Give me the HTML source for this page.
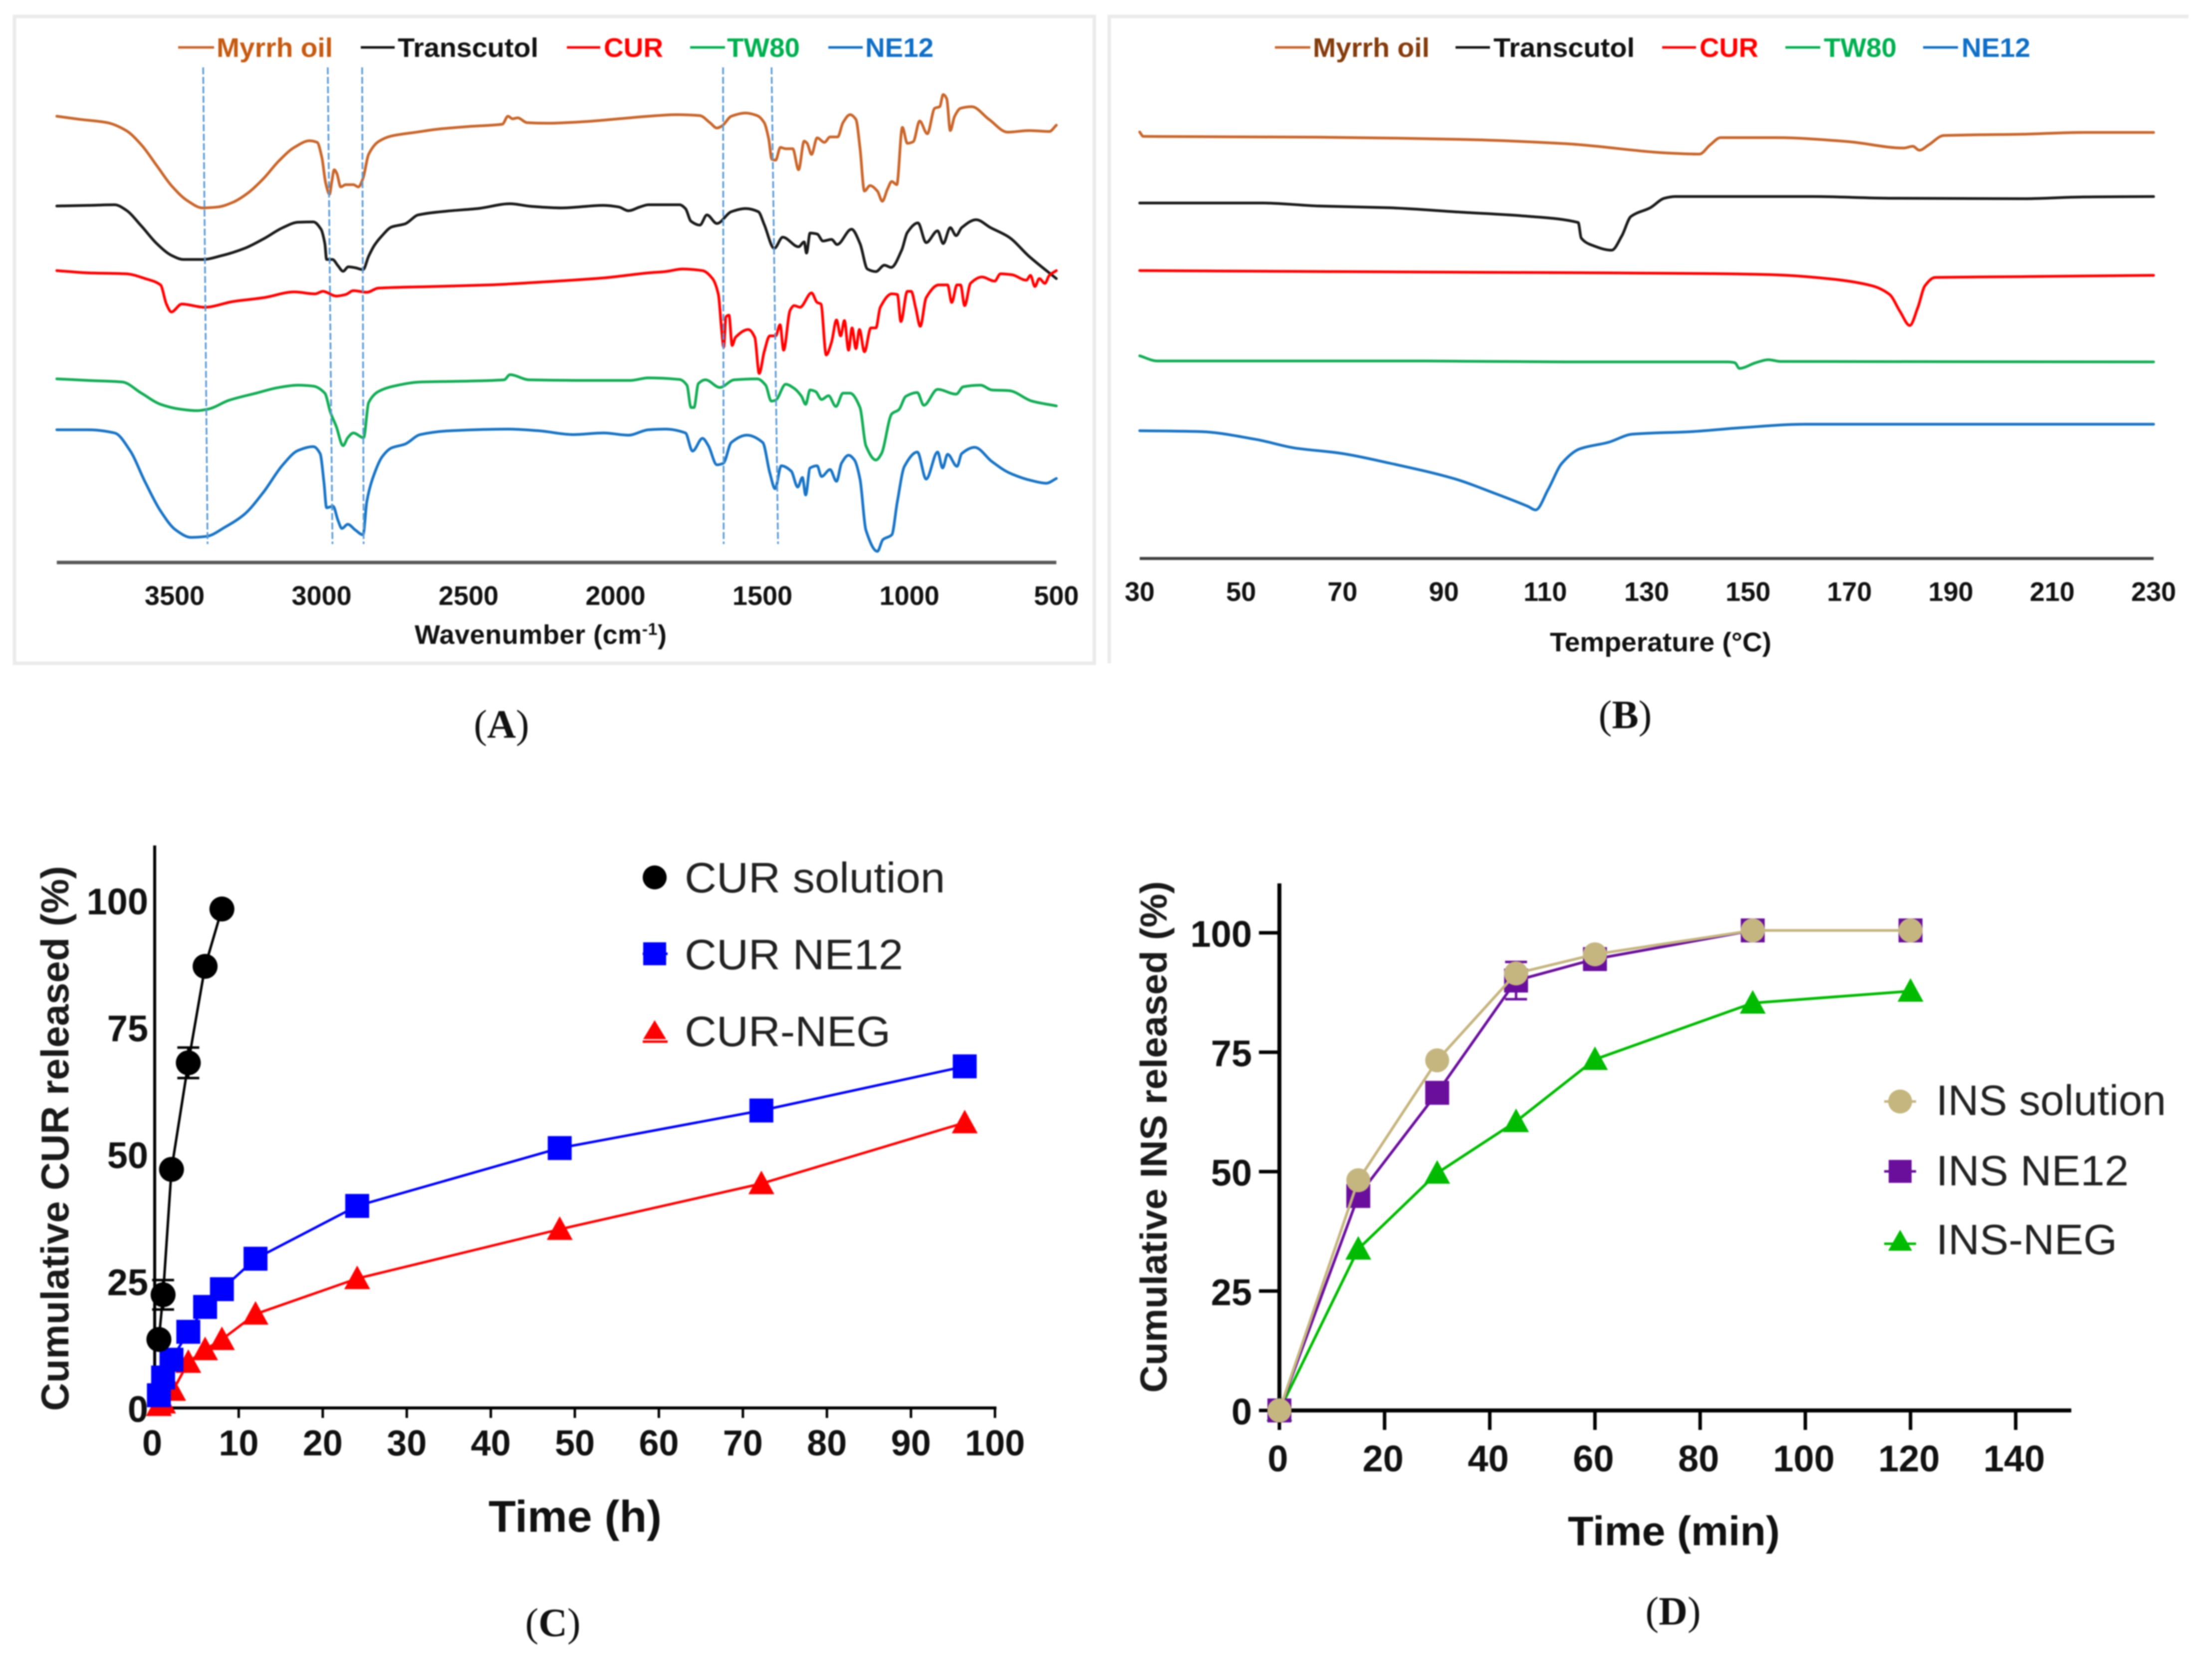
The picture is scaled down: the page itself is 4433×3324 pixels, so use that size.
<!DOCTYPE html>
<html lang="en">
<head>
<meta charset="utf-8">
<title>FTIR, DSC and release profiles</title>
<style>
html,body{margin:0;padding:0;background:#fff;}
svg{display:block;filter:blur(1.2px);}
.sb{font-family:"Liberation Sans",sans-serif;font-weight:700;}
.sr{font-family:"Liberation Sans",sans-serif;font-weight:400;}
.cap{font-family:"Liberation Serif",serif;font-size:80px;fill:#111;text-anchor:middle;}
.cap tspan{font-weight:700;}
</style>
</head>
<body>
<svg id="figure" xmlns="http://www.w3.org/2000/svg" width="4433" height="3324" viewBox="0 0 4433 3324">
<rect x="0" y="0" width="4433" height="3324" fill="#fff"/>

<g id="panel-a">
<rect x="29" y="33" width="2164" height="1296" fill="none" stroke="#ebebeb" stroke-width="7"/>
<g class="sb" font-size="54">
<line x1="357" y1="95" x2="429" y2="95" stroke="#c8662a" stroke-width="5"/>
<text x="434" y="114" fill="#c55a11" textLength="233" lengthAdjust="spacingAndGlyphs">Myrrh oil</text>
<line x1="723" y1="95" x2="791" y2="95" stroke="#111" stroke-width="5"/>
<text x="797" y="114" fill="#111" textLength="282" lengthAdjust="spacingAndGlyphs">Transcutol</text>
<line x1="1136" y1="95" x2="1203" y2="95" stroke="#ff0000" stroke-width="5"/>
<text x="1210" y="114" fill="#ff0000" textLength="119" lengthAdjust="spacingAndGlyphs">CUR</text>
<line x1="1383" y1="95" x2="1453" y2="95" stroke="#00b050" stroke-width="5"/>
<text x="1457" y="114" fill="#00b050" textLength="146" lengthAdjust="spacingAndGlyphs">TW80</text>
<line x1="1660" y1="95" x2="1729" y2="95" stroke="#0f6fc6" stroke-width="5"/>
<text x="1734" y="114" fill="#0f6fc6" textLength="137" lengthAdjust="spacingAndGlyphs">NE12</text>
</g>
<text class="sb" x="831" y="1290" font-size="54" fill="#111" textLength="505">Wavenumber (cm<tspan dy="-18" font-size="34">-1</tspan><tspan dy="18">)</tspan></text>
</g>

<g id="panel-b">
<path d="M2223 1329 V33 H4386" fill="none" stroke="#ebebeb" stroke-width="7"/>
<g class="sb" font-size="54">
<line x1="2555" y1="95" x2="2626" y2="95" stroke="#c8662a" stroke-width="5"/>
<text x="2631" y="114" fill="#843c0c" textLength="234" lengthAdjust="spacingAndGlyphs">Myrrh oil</text>
<line x1="2917" y1="95" x2="2986" y2="95" stroke="#111" stroke-width="5"/>
<text x="2993" y="114" fill="#111" textLength="283" lengthAdjust="spacingAndGlyphs">Transcutol</text>
<line x1="3331" y1="95" x2="3399" y2="95" stroke="#ff0000" stroke-width="5"/>
<text x="3406" y="114" fill="#ff0000" textLength="118" lengthAdjust="spacingAndGlyphs">CUR</text>
<line x1="3578" y1="95" x2="3648" y2="95" stroke="#00b050" stroke-width="5"/>
<text x="3655" y="114" fill="#00b050" textLength="146" lengthAdjust="spacingAndGlyphs">TW80</text>
<line x1="3854" y1="95" x2="3924" y2="95" stroke="#0f6fc6" stroke-width="5"/>
<text x="3931" y="114" fill="#0f6fc6" textLength="138" lengthAdjust="spacingAndGlyphs">NE12</text>
</g>
<text class="sb" x="3106" y="1305" font-size="54" fill="#111" textLength="444" lengthAdjust="spacingAndGlyphs">Temperature (°C)</text>
</g>

<g id="panel-c">
<text class="sb" transform="translate(137,2281) rotate(-90)" text-anchor="middle" font-size="78" fill="#1a1a1a" textLength="1092" lengthAdjust="spacingAndGlyphs">Cumulative CUR released (%)</text>
<text class="sb" x="979" y="3069" font-size="89" fill="#111" textLength="347" lengthAdjust="spacingAndGlyphs">Time (h)</text>
<g class="sr" font-size="85" fill="#222">
<circle cx="1312" cy="1758" r="24" fill="#000"/>
<text x="1372" y="1788" textLength="522" lengthAdjust="spacingAndGlyphs">CUR solution</text>
<rect x="1289" y="1888" width="46" height="46" fill="#0000ff"/>
<line x1="1288" y1="1911" x2="1338" y2="1911" stroke="#0000ff" stroke-width="5"/>
<text x="1372" y="1942" textLength="438" lengthAdjust="spacingAndGlyphs">CUR NE12</text>
<polygon points="1312,2044 1335,2082 1289,2082" fill="#ff0000"/>
<line x1="1288" y1="2087" x2="1338" y2="2087" stroke="#ff0000" stroke-width="5"/>
<text x="1372" y="2096" textLength="413" lengthAdjust="spacingAndGlyphs">CUR-NEG</text>
</g>
</g>

<g id="panel-d">
<text class="sb" transform="translate(2338,2278) rotate(-90)" text-anchor="middle" font-size="75" fill="#1a1a1a" textLength="1025" lengthAdjust="spacingAndGlyphs">Cumulative INS released (%)</text>
<text class="sb" x="3142" y="3096" font-size="83" fill="#111" textLength="425" lengthAdjust="spacingAndGlyphs">Time (min)</text>
<g class="sr" font-size="85" fill="#222">
<line x1="3776" y1="2207" x2="3840" y2="2207" stroke="#c5b67f" stroke-width="5"/>
<circle cx="3808" cy="2207" r="24" fill="#c5b67f"/>
<text x="3880" y="2234" textLength="461" lengthAdjust="spacingAndGlyphs">INS solution</text>
<line x1="3776" y1="2347" x2="3840" y2="2347" stroke="#6a0f9c" stroke-width="5"/>
<rect x="3785" y="2324" width="46" height="46" fill="#6a0f9c"/>
<text x="3880" y="2375" textLength="386" lengthAdjust="spacingAndGlyphs">INS NE12</text>
<line x1="3776" y1="2492" x2="3840" y2="2492" stroke="#00bb00" stroke-width="5"/>
<polygon points="3808,2464 3832,2506 3784,2506" fill="#00bb00"/>
<text x="3880" y="2513" textLength="363" lengthAdjust="spacingAndGlyphs">INS-NEG</text>
</g>
</g>

<g>
<text class="cap" x="1005" y="1478">(<tspan>A</tspan>)</text>
<text class="cap" x="3257" y="1459">(<tspan>B</tspan>)</text>
<text class="cap" x="1108" y="3278">(<tspan>C</tspan>)</text>
<text class="cap" x="3353" y="3255">(<tspan>D</tspan>)</text>
</g>
</svg>

<script>
/* ---------- Panel A: FTIR (wavenumber cm-1, absorbance-like depth in a.u.) ---------- */
const ftirTicks = [3500, 3000, 2500, 2000, 1500, 1000, 500];
const ftirMarkerTop = [3403, 2979, 2862, 1634, 1469];
const ftirMarkerBottom = [3388, 2963, 2857, 1632, 1447];

const myrrhWave = [3901,3820,3730,3665,3613,3561,3509,3457,3405,3353,3301,3249,3197,3145,3093,3041,3015,2999,2986,2973,2966,2957,2948,2935,2918,2892,2875,2859,2840,2807,2762,2677,2599,2495,2385,2366,2350,2333,2301,2236,2106,1976,1888,
1791,1713,1679,1655,1637,1606,1557,1518,1494,1479,1468,1455,1439,1421,1397,1377,1358,1348,1333,1314,1289,1270,1244,1226,1202,1182,1168,1153,1134,1109,1092,1075,1060,1043,1024,1007,987,965,939,914,897,885,873,861,846,826,788,729,666,593,524,500];
const myrrhDepth = [130,140,150,175,220,285,350,395,418,415,400,370,325,270,228,207,212,260,340,375,340,298,310,352,345,345,352,325,250,210,192,180,170,162,155,130,138,135,150,152,147,137,130,
125,128,150,167,160,130,120,128,150,200,265,268,228,232,232,298,208,215,250,198,212,195,195,150,125,140,230,365,348,365,397,360,335,345,165,215,210,145,185,105,100,62,75,175,130,105,100,140,180,175,178,158];

const transcutolWave = [3901,3794,3704,3665,3613,3561,3509,3470,3405,3340,3262,3197,3132,3080,3028,3002,2989,2983,2963,2944,2927,2909,2885,2859,2840,2820,2794,2762,2716,2671,2573,2469,2359,2288,2184,2041,1989,1956,1917,1888,
1782,1762,1743,1713,1689,1655,1606,1557,1514,1494,1460,1431,1377,1358,1350,1338,1314,1294,1265,1246,1197,1168,1143,1114,1085,1062,1026,1007,971,943,904,885,861,841,822,773,724,661,593,500];
const transcutolDepth = [412,410,408,425,475,530,568,580,580,568,545,515,480,463,462,485,530,580,580,600,617,603,606,612,570,535,505,478,468,440,428,420,405,413,418,410,415,427,415,408,
408,420,460,472,440,467,430,420,430,470,545,510,540,525,560,497,500,522,517,533,485,530,610,618,598,605,550,495,465,527,490,530,480,505,480,455,480,510,570,640];

const curWave = [3901,3794,3665,3600,3548,3528,3511,3476,3398,3301,3197,3093,3022,2996,2950,2918,2892,2846,2807,2625,2430,2236,2041,1888,
1830,1772,1704,1670,1650,1640,1632,1624,1614,1603,1592,1548,1526,1511,1494,1475,1455,1440,1428,1406,1392,1372,1333,1314,1301,1283,1265,1248,1234,1221,1207,1195,1182,1170,1153,1131,1114,1099,1060,1041,1029,1007,994,978,963,943,900,870,856,838,826,812,792,753,710,690,651,602,588,573,558,539,524,500];
const curDepth = [615,622,625,640,660,720,745,720,730,712,700,682,688,680,695,690,678,683,670,665,660,650,638,622,
618,610,615,640,690,790,855,760,755,850,825,800,825,938,870,820,820,785,865,740,725,730,685,715,720,880,840,770,820,772,865,795,860,800,870,795,795,730,688,690,775,680,680,735,790,700,660,660,715,660,660,725,655,635,648,625,628,645,630,665,640,655,630,615];

const tw80Wave = [3901,3794,3678,3613,3548,3483,3424,3385,3314,3223,3145,3080,3028,2989,2970,2950,2927,2911,2892,2857,2840,2807,2755,2664,2495,2379,2359,2294,2106,1950,1888,
1782,1757,1743,1733,1718,1694,1645,1596,1518,1489,1470,1455,1421,1392,1367,1353,1338,1319,1299,1275,1250,1226,1202,1168,1148,1114,1095,1060,1036,1012,973,951,904,841,817,758,719,661,583,500];
const tw80Depth = [955,960,965,1000,1035,1050,1055,1050,1022,1000,982,975,978,1000,1060,1105,1165,1140,1125,1140,1030,995,978,965,962,958,942,958,960,960,952,
957,975,1045,1045,970,958,982,958,955,975,1025,1022,972,985,1010,1035,990,995,1020,1008,1042,1000,1000,1045,1165,1210,1190,1065,1052,1010,998,1038,988,1003,980,975,990,992,1025,1040];

const ne12Wave = [3901,3794,3704,3652,3600,3548,3496,3444,3392,3327,3262,3197,3132,3080,3028,3005,2992,2983,2961,2944,2931,2911,2885,2859,2846,2827,2794,2762,2716,2664,2560,2366,2262,2145,2041,1956,1888,
1830,1762,1738,1704,1684,1655,1633,1606,1553,1499,1475,1457,1436,1402,1380,1364,1353,1338,1314,1299,1270,1248,1231,1207,1187,1168,1148,1109,1090,1060,1041,1017,973,943,904,887,870,838,822,778,719,661,583,534,500];
const ne12Depth = [1115,1115,1125,1180,1280,1370,1430,1453,1450,1420,1380,1310,1225,1180,1168,1190,1280,1360,1355,1400,1425,1412,1430,1445,1340,1270,1200,1172,1160,1130,1118,1113,1118,1130,1125,1132,1115,
1113,1125,1182,1142,1165,1225,1220,1155,1132,1155,1250,1300,1228,1245,1295,1265,1320,1235,1228,1262,1240,1277,1220,1195,1210,1270,1430,1497,1460,1445,1340,1230,1185,1270,1185,1235,1192,1230,1190,1170,1215,1250,1275,1283,1268];

/* ---------- Panel B: DSC (temperature in deg C, heat-flow depth in a.u.) ---------- */
const dscTicks = [30, 50, 70, 90, 110, 130, 150, 170, 190, 210, 230];
const dscMyrrhTemp = [30,30.7,65.4,93.2,114,134.9,140.4,142.5,144.6,155.7,169.6,180.7,182.5,183.8,185.6,188.6,204.3,216.1,230];
const dscMyrrhFlow = [305,315,317,322,332,354,356,335,318,318,327,342,338,347,335,313,310,306,306];
const dscTranscutolTemp = [30,54.3,65.4,79.3,93.2,107.1,116.5,117.1,118.9,123.1,125.1,126.9,130.7,133.5,135.6,162.6,177.9,204.3,216.1,230];
const dscTranscutolFlow = [469,469,476,480,490,500,514,550,565,578,545,500,480,458,454,454,458,459,455,454];
const dscCurTemp = [30,59.9,115.4,141.8,155.7,166.8,174.4,177.9,180,181.9,183.5,184.9,186.9,204.3,230];
const dscCurFlow = [625,627,630,632,635,645,660,680,720,752,710,660,641,639,636];
const dscTw80Temp = [30,33.5,86.3,114,146,147.4,148.3,151.5,154,156.4,230];
const dscTw80Flow = [822,834,834,836,836,838,851,838,831,835,836];
const dscNe12Temp = [30,41.8,52.9,60.6,69.6,79.3,91.8,100.1,106.6,108.1,110.6,113.3,116.8,122.4,127.2,139,148.8,161.3,230];
const dscNe12Flow = [995,997,1015,1035,1047,1070,1105,1140,1170,1178,1130,1070,1037,1022,1003,997,988,980,980];

/* ---------- Panel C: CUR release ---------- */
const curXTicks = [0, 10, 20, 30, 40, 50, 60, 70, 80, 90, 100];
const curYTicks = [0, 25, 50, 75, 100];
const curSolutionTime = [0.5, 1, 2, 4, 6, 8];
const curSolutionValues = [13.5, 22.3, 47, 68, 87, 98.3];
const curSolutionErrors = [0, 2.9, 0, 3, 0, 0];
const curNe12Time = [0.5, 1, 2, 4, 6, 8, 12, 24.1, 48.2, 72.2, 96.4];
const curNe12Values = [2.5, 6, 9.5, 15, 19.9, 23.4, 29.4, 39.8, 51.2, 58.6, 67.3];
const curNegTime = [0.5, 1, 2.2, 4, 6, 8, 12, 24.1, 48.2, 72.2, 96.4];
const curNegValues = [0.5, 1, 3.5, 9, 11.5, 13.5, 18.5, 25.5, 35.2, 44.2, 56.2];

/* ---------- Panel D: INS release ---------- */
const insXTicks = [0, 20, 40, 60, 80, 100, 120, 140];
const insYTicks = [0, 25, 50, 75, 100];
const insTime = [0, 15, 30, 45, 60, 90, 120];
const insSolutionValues = [0, 48.2, 73.3, 91.5, 95.5, 100.5, 100.5];
const insNe12Values = [0, 44.9, 66.5, 90, 94.5, 100.5, 100.5];
const insNe12Errors = [0, 0, 0, 3.9, 0, 0, 0];
const insNegValues = [0, 33.8, 49.7, 60.5, 73.5, 85.3, 87.8];

/* ---------- axis functions ---------- */
const xFtir = w => 2117 - (w - 500) * 0.589;
const yFtir = d => 150 + d / 1.568;
const xDsc = t => 2284 + (t - 30) * 10.16;
const yDsc = d => d / 1.153;
const xCur = h => 310 + h * 16.84;
const yCur = v => 2821 - v * 10.17;
const xIns = m => 2564 + m * 10.54;
const yIns = v => 2826 - v * 9.57;

const SVGNS = 'http://www.w3.org/2000/svg';
function add(parent, tag, attrs, name, text) {
  const el = document.createElementNS(SVGNS, tag);
  for (const k in attrs) el.setAttribute(k, attrs[k]);
  
  
  if (text !== undefined) el.textContent = text;
  parent.appendChild(el);
  return el;
}
function trace(parent, xs, ys, fx, fy, color, width, name) {
  const pts = xs.map((x, i) => fx(x).toFixed(1) + ',' + fy(ys[i]).toFixed(1)).join(' ');
  return add(parent, 'polyline', {points: pts, fill: 'none', stroke: color, 'stroke-width': width, 'stroke-linejoin': 'round', 'stroke-linecap': 'round'}, name);
}
/* monotone cubic path through the points, for the instrument traces */
function smoothTrace(parent, xs, ys, fx, fy, color, width, name) {
  const px = xs.map(fx);
  const py = ys.map(fy);
  const n = px.length;
  const sec = [];
  for (let i = 0; i < n - 1; i++) sec.push((py[i + 1] - py[i]) / (px[i + 1] - px[i]));
  const m = [sec[0]];
  for (let i = 1; i < n - 1; i++) {
    m.push(sec[i - 1] * sec[i] <= 0 ? 0 : 2 * sec[i - 1] * sec[i] / (sec[i - 1] + sec[i]));
  }
  m.push(sec[n - 2]);
  let d = 'M' + px[0].toFixed(1) + ' ' + py[0].toFixed(1);
  for (let i = 0; i < n - 1; i++) {
    const h = (px[i + 1] - px[i]) / 3;
    d += 'C' + (px[i] + h).toFixed(1) + ' ' + (py[i] + m[i] * h).toFixed(1) + ' ' + (px[i + 1] - h).toFixed(1) + ' ' + (py[i + 1] - m[i + 1] * h).toFixed(1) + ' ' + px[i + 1].toFixed(1) + ' ' + py[i + 1].toFixed(1);
  }
  return add(parent, 'path', {d: d, fill: 'none', stroke: color, 'stroke-width': width, 'stroke-linejoin': 'round', 'stroke-linecap': 'round'}, name);
}
function tickText(parent, x, y, size, anchor, label, name) {
  return add(parent, 'text', {x: x, y: y, 'font-size': size, 'text-anchor': anchor, fill: '#111', 'class': 'sb'}, name, String(label));
}
function circleMark(parent, x, y, r, color, name) {
  add(parent, 'circle', {cx: x, cy: y, r: r, fill: color}, name);
}
function squareMark(parent, x, y, h, color, name) {
  add(parent, 'rect', {x: x - h, y: y - h, width: 2 * h, height: 2 * h, fill: color}, name);
}
function triangleMark(parent, x, y, h, color, name) {
  add(parent, 'polygon', {points: x + ',' + (y - h) + ' ' + (x + h) + ',' + (y + h * 0.82) + ' ' + (x - h) + ',' + (y + h * 0.82), fill: color}, name);
}
function errorBar(parent, x, yTop, yBot, color, name) {
  add(parent, 'path', {d: 'M' + (x - 22) + ' ' + yTop + 'H' + (x + 22) + 'M' + x + ' ' + yTop + 'V' + yBot + 'M' + (x - 22) + ' ' + yBot + 'H' + (x + 22), fill: 'none', stroke: color, 'stroke-width': 5}, name);
}

/* ---------- Panel A ---------- */
const panelA = document.getElementById('panel-a');
smoothTrace(panelA, myrrhWave, myrrhDepth, xFtir, yFtir, '#c8662a', 5.5, 'ftir-trace-myrrh-oil');
smoothTrace(panelA, transcutolWave, transcutolDepth, xFtir, yFtir, '#1a1a1a', 5.5, 'ftir-trace-transcutol');
smoothTrace(panelA, curWave, curDepth, xFtir, yFtir, '#ff0000', 5.5, 'ftir-trace-cur');
smoothTrace(panelA, tw80Wave, tw80Depth, xFtir, yFtir, '#12ad55', 5.5, 'ftir-trace-tw80');
smoothTrace(panelA, ne12Wave, ne12Depth, xFtir, yFtir, '#1874c4', 5.5, 'ftir-trace-ne12');
ftirMarkerTop.forEach((w, i) => {
  add(panelA, 'line', {x1: xFtir(w), y1: 135, x2: xFtir(ftirMarkerBottom[i]), y2: 1090, stroke: '#5b9bd5', 'stroke-width': 3.5, 'stroke-dasharray': '14 5'}, 'peak-guide-line');
});
add(panelA, 'line', {x1: xFtir(3901), y1: 1127, x2: xFtir(500), y2: 1127, stroke: '#595959', 'stroke-width': 7}, 'x-axis-line-wavenumber');
ftirTicks.forEach(w => {
  tickText(panelA, xFtir(w), 1212, 54, 'middle', w, 'x-tick-label-wavenumber');
});

/* ---------- Panel B ---------- */
const panelB = document.getElementById('panel-b');
smoothTrace(panelB, dscMyrrhTemp, dscMyrrhFlow, xDsc, yDsc, '#c8662a', 5.5, 'dsc-trace-myrrh-oil');
smoothTrace(panelB, dscTranscutolTemp, dscTranscutolFlow, xDsc, yDsc, '#1a1a1a', 5.5, 'dsc-trace-transcutol');
smoothTrace(panelB, dscCurTemp, dscCurFlow, xDsc, yDsc, '#ff0000', 5.5, 'dsc-trace-cur');
smoothTrace(panelB, dscTw80Temp, dscTw80Flow, xDsc, yDsc, '#12ad55', 5.5, 'dsc-trace-tw80');
smoothTrace(panelB, dscNe12Temp, dscNe12Flow, xDsc, yDsc, '#1874c4', 5.5, 'dsc-trace-ne12');
add(panelB, 'line', {x1: xDsc(30), y1: 1119, x2: xDsc(230), y2: 1119, stroke: '#404040', 'stroke-width': 6}, 'x-axis-line-temperature');
dscTicks.forEach(t => {
  tickText(panelB, xDsc(t), 1204, 54, 'middle', t, 'x-tick-label-temperature');
});

/* ---------- Panel C ---------- */
const panelC = document.getElementById('panel-c');
add(panelC, 'line', {x1: 310, y1: 1694, x2: 310, y2: 2824, stroke: '#000', 'stroke-width': 6}, 'y-axis-line-cur');
add(panelC, 'line', {x1: 307, y1: 2821, x2: xCur(100) + 3, y2: 2821, stroke: '#000', 'stroke-width': 6}, 'x-axis-line-cur');
curXTicks.forEach(t => {
  if (t > 0) add(panelC, 'line', {x1: xCur(t), y1: 2821, x2: xCur(t), y2: 2841, stroke: '#000', 'stroke-width': 5}, 'x-tick-mark-cur');
  tickText(panelC, xCur(t) - (t === 0 ? 5 : 0), 2916, 72, 'middle', t, 'x-tick-label-cur');
});
curYTicks.forEach(v => {
  tickText(panelC, 297, yCur(v) + 28, 74, 'end', v, 'y-tick-label-cur');
});
trace(panelC, curNegTime, curNegValues, xCur, yCur, '#ff0000', 5, 'line-cur-neg');
curNegTime.forEach((t, i) => {
  triangleMark(panelC, xCur(t), yCur(curNegValues[i]), 26, '#ff0000', 'point-cur-neg');
});
trace(panelC, curNe12Time, curNe12Values, xCur, yCur, '#0000ff', 5, 'line-cur-ne12');
curNe12Time.forEach((t, i) => {
  squareMark(panelC, xCur(t), yCur(curNe12Values[i]), 24, '#0000ff', 'point-cur-ne12');
});
trace(panelC, curSolutionTime, curSolutionValues, xCur, yCur, '#000', 5, 'line-cur-solution');
curSolutionTime.forEach((t, i) => {
  if (curSolutionErrors[i] > 0) errorBar(panelC, xCur(t), yCur(curSolutionValues[i] + curSolutionErrors[i]), yCur(curSolutionValues[i] - curSolutionErrors[i]), '#000', 'error-bar-cur-solution');
  circleMark(panelC, xCur(t), yCur(curSolutionValues[i]), 25, '#000', 'point-cur-solution');
});

/* ---------- Panel D ---------- */
const panelD = document.getElementById('panel-d');
add(panelD, 'line', {x1: 2564, y1: 1770, x2: 2564, y2: 2830, stroke: '#000', 'stroke-width': 8}, 'y-axis-line-ins');
add(panelD, 'line', {x1: 2560, y1: 2826, x2: 4151, y2: 2826, stroke: '#000', 'stroke-width': 8}, 'x-axis-line-ins');
insXTicks.forEach(t => {
  add(panelD, 'line', {x1: xIns(t), y1: 2826, x2: xIns(t), y2: 2865, stroke: '#000', 'stroke-width': 7}, 'x-tick-mark-ins');
  tickText(panelD, xIns(t) - 3, 2948, 74, 'middle', t, 'x-tick-label-ins');
});
insYTicks.forEach(v => {
  add(panelD, 'line', {x1: 2523, y1: yIns(v), x2: 2564, y2: yIns(v), stroke: '#000', 'stroke-width': 7}, 'y-tick-mark-ins');
  tickText(panelD, 2509, yIns(v) + 28, 74, 'end', v, 'y-tick-label-ins');
});
trace(panelD, insTime, insNegValues, xIns, yIns, '#00bb00', 5.5, 'line-ins-neg');
insTime.forEach((t, i) => {
  triangleMark(panelD, xIns(t), yIns(insNegValues[i]), 26, '#00bb00', 'point-ins-neg');
});
trace(panelD, insTime, insNe12Values, xIns, yIns, '#6a0f9c', 5.5, 'line-ins-ne12');
insTime.forEach((t, i) => {
  if (insNe12Errors[i] > 0) errorBar(panelD, xIns(t), yIns(insNe12Values[i] + insNe12Errors[i]), yIns(insNe12Values[i] - insNe12Errors[i]), '#6a0f9c', 'error-bar-ins-ne12');
  squareMark(panelD, xIns(t), yIns(insNe12Values[i]), 24, '#6a0f9c', 'point-ins-ne12');
});
trace(panelD, insTime, insSolutionValues, xIns, yIns, '#c5b67f', 5.5, 'line-ins-solution');
insTime.forEach((t, i) => {
  circleMark(panelD, xIns(t), yIns(insSolutionValues[i]), 24, '#c5b67f', 'point-ins-solution');
});
</script>
</body>
</html>
